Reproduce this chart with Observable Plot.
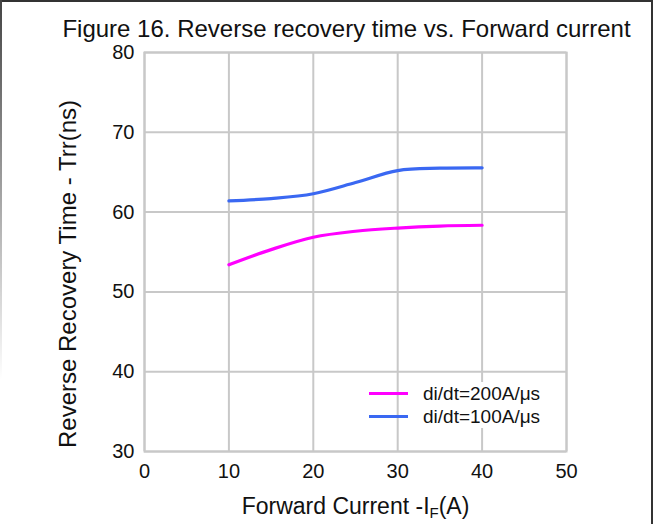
<!DOCTYPE html>
<html>
<head>
<meta charset="utf-8">
<script src="https://cdn.jsdelivr.net/npm/d3@7"></script>
<script src="https://cdn.jsdelivr.net/npm/@observablehq/plot@0.6"></script>
<style>
  html, body { margin: 0; padding: 0; background: #fff; }
  #wrap { position: relative; width: 656px; height: 524px; overflow: hidden;
          font-family: "Liberation Sans", Arial, sans-serif; color: #111; }
  #frame { position: absolute; left: 0; top: 0; width: 651px; height: 530px;
           border-top: 2px solid #333; border-right: 2px solid #333; pointer-events: none; }
  #leftEdge { position: absolute; left: 0; top: 0; width: 2px; height: 380px;
              background: linear-gradient(#444, rgba(68,68,68,0)); }
  #title { position: absolute; left: 0; width: 693px; top: 15px; text-align: center;
           font-size: 24px; white-space: nowrap; }
  #legend { position: absolute; left: 369px; top: 382px; font-size: 19px; white-space: nowrap; }
  #legend .row { position: relative; height: 23px; }
  #legend .sw { position: absolute; left: 0; top: 10px; width: 39px; height: 3px; }
  #legend .lab { position: absolute; left: 44px; top: 0; background: #fff; padding: 0 9px 0 10px; line-height: 23px; }
</style>
</head>
<body>
<div id="wrap">
  <div id="chart"></div>
  <div id="title">Figure 16. Reverse recovery time vs. Forward current</div>
  <div id="legend"></div>
  <div id="frame"></div>
  <div id="leftEdge"></div>
</div>
<script>
// Forward current (A) sampled along each curve
const current = [10, 15, 20, 25, 30, 35, 40];
// Reverse recovery time (ns) for each di/dt setting
const trr200 = [53.4, 55.3, 56.85, 57.6, 58.0, 58.25, 58.35];
const trr100 = [61.4, 61.7, 62.3, 63.7, 65.2, 65.5, 65.55];
const seriesNames = ["di/dt=200A/μs", "di/dt=100A/μs"];
const seriesColors = ["#ff00ff", "#3a68f2"];
const xTicks = [0, 10, 20, 30, 40, 50];
const yTicks = [30, 40, 50, 60, 70, 80];

const rows = [
  ...current.map((c, i) => ({x: c, y: trr200[i], s: seriesNames[0]})),
  ...current.map((c, i) => ({x: c, y: trr100[i], s: seriesNames[1]}))
];

const grid = "#c8c8c8";
const chart = Plot.plot({
  width: 656,
  height: 524,
  marginTop: 52,
  marginLeft: 144,
  marginRight: 90,
  marginBottom: 73,
  style: {fontFamily: "Liberation Sans, Arial, sans-serif", fontSize: "20px", color: "#111", background: "#fff"},
  x: {domain: [0, 50], ticks: xTicks, tickSize: 0, tickPadding: 12, label: null},
  y: {domain: [30, 80], ticks: yTicks, tickSize: 0, tickPadding: 10, label: null},
  color: {domain: seriesNames, range: seriesColors},
  marks: [
    Plot.gridX(xTicks, {stroke: grid, strokeOpacity: 1, strokeWidth: 2}),
    Plot.gridY(yTicks, {stroke: grid, strokeOpacity: 1, strokeWidth: 2}),
    Plot.frame({stroke: grid, strokeWidth: 2}),
    Plot.axisX({ticks: xTicks, tickSize: 0, tickPadding: 12, fontSize: 20, label: null}),
    Plot.axisY({ticks: yTicks, tickSize: 0, tickPadding: 10, fontSize: 20, label: null}),
    Plot.text(["Forward Current -I"], {frameAnchor: "bottom", dy: 62, fontSize: 23, text: d => d}),
    Plot.text(["Reverse Recovery Time - Trr(ns)"], {frameAnchor: "left", textAnchor: "middle", dx: -76, dy: 22, rotate: -90, fontSize: 24, text: d => d}),
    Plot.line(rows, {x: "x", y: "y", z: "s", stroke: "s", strokeWidth: 3.2, curve: "catmull-rom"})
  ]
});
document.getElementById("chart").appendChild(chart);

// Give the x label its subscript F
const xl = Array.from(chart.querySelectorAll("text")).find(t => t.textContent === "Forward Current -I");
if (xl) {
  xl.textContent = "";
  const ns = "http://www.w3.org/2000/svg";
  const a = document.createElementNS(ns, "tspan"); a.textContent = "Forward Current -I";
  const b = document.createElementNS(ns, "tspan"); b.textContent = "F"; b.setAttribute("font-size", "15"); b.setAttribute("dy", "4");
  const c = document.createElementNS(ns, "tspan"); c.textContent = "(A)"; c.setAttribute("dy", "-4");
  xl.append(a, b, c);
}

const legend = document.getElementById("legend");
seriesNames.forEach((n, i) => {
  const row = document.createElement("div"); row.className = "row";
  row.innerHTML = `<div class="sw" style="background:${seriesColors[i]}"></div><span class="lab">${n}</span>`;
  legend.appendChild(row);
});
</script>
</body>
</html>
